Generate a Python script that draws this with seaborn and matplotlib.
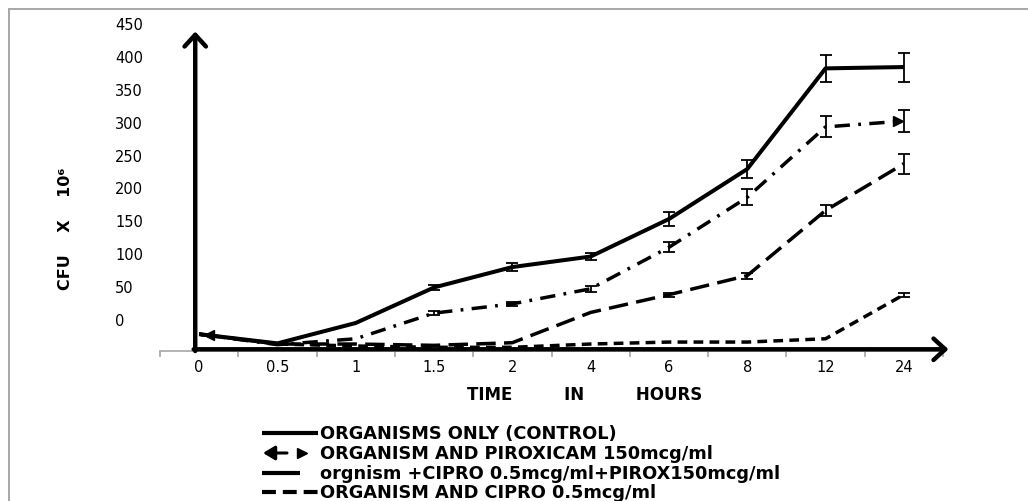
import numpy as np
import pandas as pd
import matplotlib
matplotlib.use("Agg")
import matplotlib.pyplot as plt
import seaborn as sns

# ---------------- data (CFU x 10^6) ----------------
time_labels = ["0", "0.5", "1", "1.5", "2", "4", "6", "8", "12", "24"]
control = [-23, -37, -6, 48, 79, 95, 152, 228, 381, 383]
control_err = [0, 0, 0, 4, 6, 6, 10, 14, 21, 22]
pirox = [-23, -39, -30, 9, 23, 46, 109, 185, 292, 301]
pirox_err = [0, 0, 0, 3, 3, 4.5, 7.5, 12, 16, 17]
cipro_pirox = [-23, -38, -38, -40, -36, 10, 37, 66, 165, 236]
cipro_pirox_err = [0, 0, 0, 0, 0, 0, 3, 4.5, 9, 15]
cipro = [-23, -38, -41, -43, -43, -38, -35, -35, -30, 37]
cipro_err = [0, 0, 0, 0, 0, 0, 0, 0, 0, 3]
y_ticks = [0, 50, 100, 150, 200, 250, 300, 350, 400, 450]
legend_labels = [
    "ORGANISMS ONLY (CONTROL)",
    "ORGANISM AND PIROXICAM 150mcg/ml",
    "orgnism +CIPRO 0.5mcg/ml+PIROX150mcg/ml",
    "ORGANISM AND CIPRO 0.5mcg/ml",
]
y_label = "CFU    X    10\u2076"
x_label = "TIME         IN         HOURS"

sns.set_style("white")
plt.rcParams["font.family"] = ["DejaVu Sans"]
plt.rcParams["lines.scale_dashes"] = False
plt.rcParams["text.color"] = "black"
plt.rcParams["xtick.color"] = "black"
plt.rcParams["ytick.color"] = "black"

W, H = 1028, 502
fig = plt.figure(figsize=(W / 100, H / 100), dpi=100)
fig.patch.set_facecolor("white")

ax_l, ax_r, ax_b, ax_t = 160, 943, 352, 17.4
ax = fig.add_axes([ax_l / W, 1 - ax_b / H, (ax_r - ax_l) / W, (ax_b - ax_t) / H])
ax.set_facecolor("none")

pos = np.arange(len(time_labels))
series = [
    (control, control_err, 2.9, "-"),
    (pirox, pirox_err, 2.5, (0, (11, 6, 2, 6))),
    (cipro_pirox, cipro_pirox_err, 2.5, (0, (14, 6))),
    (cipro, cipro_err, 2.5, (0, (7, 4.5))),
]
for vals, err, lw, ls in series:
    df = pd.DataFrame({"pos": pos, "cfu": vals})
    sns.lineplot(data=df, x="pos", y="cfu", ax=ax, color="black",
                 linewidth=lw, linestyle=ls, errorbar=None, sort=False,
                 solid_capstyle="butt")
    e = np.array(err, dtype=float)
    m = e > 0
    ax.errorbar(pos[m], np.array(vals)[m], yerr=e[m], fmt="none",
                ecolor="black", elinewidth=1.3, capsize=4, capthick=1.3)

# piroxicam arrow ends
ax.plot(pos[0] + 0.12, pirox[0] - 1, marker="<", color="black", ms=7, ls="none")
ax.plot(pos[-1] - 0.08, pirox[-1], marker=">", color="black", ms=7, ls="none")

ax.set_xlim(-0.5, 9.5)
ax.set_ylim(-48.6, 460)
ax.set_xlabel("")
ax.set_ylabel("")

for s in ["top", "right", "left"]:
    ax.spines[s].set_visible(False)
ax.spines["bottom"].set_color("#a6a6a6")
ax.spines["bottom"].set_linewidth(1.2)

ax.set_xticks(pos)
ax.set_xticklabels(time_labels)
ax.set_xticks(np.arange(-0.5, 10, 1), minor=True)
ax.tick_params(axis="x", which="major", length=0, pad=6, labelsize=10.5, labelcolor="black")
ax.tick_params(axis="x", which="minor", length=4, width=1.2, color="#a6a6a6", direction="out", bottom=True)

ax.set_yticks(y_ticks)
ax.set_yticklabels([str(v) for v in y_ticks])
ax.tick_params(axis="y", length=0, pad=32.4, labelsize=10.5, labelcolor="black")
for lab in ax.get_yticklabels():
    lab.set_horizontalalignment("left")

# axis arrows
arrow_kw = dict(arrowstyle="->,head_length=0.6,head_width=0.55", lw=3.2,
                color="black", mutation_scale=14, shrinkA=0, shrinkB=0)
ax.annotate("", xy=(-0.05, 437), xytext=(-0.05, -48.6), arrowprops=arrow_kw,
            annotation_clip=False)
ax.annotate("", xy=(9.57, -46), xytext=(-0.07, -46), arrowprops=arrow_kw,
            annotation_clip=False)

# overlay in pixel coordinates for frame, labels and legend
ov = fig.add_axes([0, 0, 1, 1], zorder=-1)
ov.set_xlim(0, W)
ov.set_ylim(H, 0)
ov.axis("off")
ov.plot([9, W], [10, 10], color="#a0a0a0", lw=1.3)
ov.plot([9, 9], [10, H], color="#a0a0a0", lw=1.3)

ov.text(66, 229, y_label, rotation=90, ha="center", va="center",
        fontweight="bold", fontsize=11.5, color="black")
ov.text(585, 395, x_label, ha="center", va="center", fontweight="bold",
        fontsize=12, color="black")

rows = [434, 454, 474, 493]
for lab, y in zip(legend_labels, rows):
    ov.text(320, y, lab, ha="left", va="center", fontweight="bold",
            fontsize=12.8, color="black")
ov.plot([262, 318], [rows[0]] * 2, color="black", lw=3, solid_capstyle="butt")
ov.annotate("", xy=(263, rows[1]), xytext=(287, rows[1]),
            arrowprops=dict(arrowstyle="-|>,head_length=0.5,head_width=0.3", lw=2.2,
                            color="black", mutation_scale=14, shrinkA=0, shrinkB=0))
ov.plot([302], [rows[1]], marker=">", color="black", ms=6.5)
ov.plot([262, 300], [rows[2]] * 2, color="black", lw=3, solid_capstyle="butt")
ov.plot([262, 318], [rows[3]] * 2, color="black", lw=3, linestyle=(0, (10, 5)))

fig.savefig("out.png", dpi=100, facecolor="white")
